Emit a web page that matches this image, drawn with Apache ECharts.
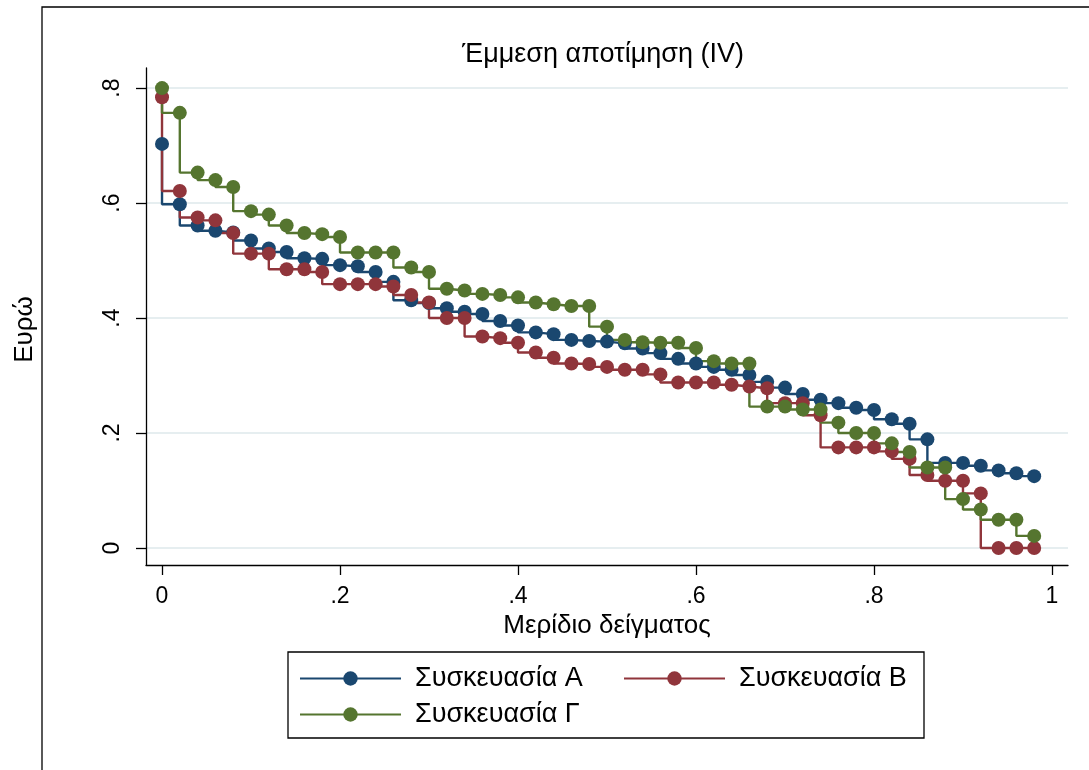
<!DOCTYPE html>
<html>
<head>
<meta charset="utf-8">
<script src="https://cdn.jsdelivr.net/npm/echarts@6/dist/echarts.min.js"></script>
<style>
html, body { margin: 0; padding: 0; background: #fff; }
#chart { width: 1089px; height: 770px; }
</style>
</head>
<body>
<div id="chart"></div>
<script>
// μερίδιο δείγματος (άξονας x)
const shares = [0, 0.02, 0.04, 0.06, 0.08, 0.1, 0.12, 0.14, 0.16, 0.18,
  0.2, 0.22, 0.24, 0.26, 0.28, 0.3, 0.32, 0.34, 0.36, 0.38,
  0.4, 0.42, 0.44, 0.46, 0.48, 0.5, 0.52, 0.54, 0.56, 0.58,
  0.6, 0.62, 0.64, 0.66, 0.68, 0.7, 0.72, 0.74, 0.76, 0.78,
  0.8, 0.82, 0.84, 0.86, 0.88, 0.9, 0.92, 0.94, 0.96, 0.98]

const packA = [0.703, 0.598, 0.561, 0.552, 0.549, 0.535, 0.521, 0.515, 0.504, 0.503,
  0.492, 0.490, 0.480, 0.463, 0.431, 0.426, 0.417, 0.411, 0.407, 0.395,
  0.387, 0.375, 0.372, 0.362, 0.360, 0.359, 0.356, 0.347, 0.339, 0.329,
  0.321, 0.315, 0.310, 0.301, 0.289, 0.279, 0.268, 0.258, 0.252, 0.244,
  0.240, 0.224, 0.216, 0.189, 0.148, 0.148, 0.143, 0.135, 0.130, 0.125]

const packB = [0.784, 0.621, 0.575, 0.570, 0.548, 0.512, 0.512, 0.485, 0.485, 0.480,
  0.459, 0.459, 0.459, 0.455, 0.440, 0.427, 0.400, 0.400, 0.368, 0.365,
  0.357, 0.340, 0.331, 0.321, 0.320, 0.315, 0.310, 0.310, 0.302, 0.288,
  0.288, 0.288, 0.284, 0.281, 0.278, 0.252, 0.252, 0.231, 0.175, 0.175,
  0.175, 0.168, 0.155, 0.127, 0.117, 0.117, 0.095, 0, 0, 0]

const packG = [0.800, 0.757, 0.653, 0.640, 0.628, 0.586, 0.580, 0.561, 0.548, 0.546,
  0.541, 0.514, 0.514, 0.514, 0.488, 0.480, 0.451, 0.448, 0.442, 0.440,
  0.436, 0.427, 0.424, 0.421, 0.421, 0.385, 0.362, 0.358, 0.357, 0.357,
  0.348, 0.325, 0.321, 0.321, 0.246, 0.246, 0.241, 0.241, 0.218, 0.200,
  0.200, 0.182, 0.167, 0.140, 0.140, 0.085, 0.067, 0.049, 0.049, 0.021]

const seriesNames = ['Συσκευασία Α', 'Συσκευασία Β', 'Συσκευασία Γ']
const xTicks = [0, 0.2, 0.4, 0.6, 0.8, 1]
const yTicks = [0, 0.2, 0.4, 0.6, 0.8]

const font = "'Liberation Sans', Arial, sans-serif"
const colors = ['#1a476f', '#90353b', '#55752f']

// 0.2 -> .2 όπως στο Stata
function stataLabel(v) {
  if (v === 0) return '0'
  if (v === 1) return '1'
  return String(+v.toFixed(2)).replace(/^0/, '')
}

function makeSeries(name, values, color) {
  return {
    name: name,
    type: 'line',
    step: 'start',
    data: shares.map((x, i) => [x, values[i]]),
    symbol: 'circle',
    symbolSize: 14,
    showAllSymbol: true,
    itemStyle: { color: color },
    lineStyle: { color: color, width: 2.4 }
  }
}

function legendItem(name, left, top) {
  return {
    data: [name],
    left: left,
    top: top,
    padding: 0,
    itemWidth: 101,
    itemHeight: 18,
    selectedMode: false,
    textStyle: { fontFamily: font, fontSize: 27, color: '#000', padding: [0, 0, 0, 9] }
  }
}

const chart = echarts.init(document.getElementById('chart'))
const option = {
  animation: false,
  backgroundColor: '#fff',
  textStyle: { fontFamily: font },
  title: {
    text: 'Έμμεση αποτίμηση (IV)',
    left: 598,
    textAlign: 'center',
    top: 36,
    textStyle: { fontFamily: font, fontSize: 27, fontWeight: 'normal', color: '#000' }
  },
  grid: { left: 146, right: 21, top: 68, bottom: 205 },
  xAxis: {
    type: 'value',
    min: -0.018,
    max: 1.018,
    name: 'Μερίδιο δείγματος',
    nameLocation: 'middle',
    nameGap: 44,
    nameTextStyle: { fontFamily: font, fontSize: 26, color: '#000' },
    axisLine: { show: true, onZero: false, lineStyle: { color: '#000', width: 1.3 } },
    axisTick: { show: true, length: 10, customValues: xTicks, lineStyle: { color: '#000', width: 1.3 } },
    axisLabel: { customValues: xTicks, formatter: stataLabel, margin: 20, fontSize: 23, color: '#000', fontFamily: font },
    splitLine: { show: false }
  },
  yAxis: {
    type: 'value',
    min: -0.0296,
    max: 0.835,
    name: 'Ευρώ',
    nameLocation: 'middle',
    nameGap: 108,
    nameTextStyle: { fontFamily: font, fontSize: 26, color: '#000', padding: [0, 26, 0, 0] },
    axisLine: { show: true, onZero: false, lineStyle: { color: '#000', width: 1.3 } },
    axisTick: { show: true, length: 10, customValues: yTicks, lineStyle: { color: '#000', width: 1.3 } },
    axisLabel: { customValues: yTicks, formatter: stataLabel, rotate: 90, margin: 22, fontSize: 23, color: '#000', fontFamily: font },
    splitLine: { show: true, lineStyle: { color: '#e6eef0', width: 2 } }
  },
  legend: [
    legendItem(seriesNames[0], 299, 665),
    legendItem(seriesNames[1], 623, 665),
    legendItem(seriesNames[2], 299, 701)
  ],
  graphic: [
    {
      type: 'rect',
      shape: { x: 42, y: 7, width: 1200, height: 900 },
      style: { fill: 'none', stroke: '#000', lineWidth: 1.3 },
      silent: true
    },
    {
      type: 'rect',
      shape: { x: 288, y: 652, width: 636, height: 86 },
      style: { fill: 'none', stroke: '#000', lineWidth: 1.3 },
      silent: true
    }
  ],
  series: [
    makeSeries(seriesNames[0], packA, colors[0]),
    makeSeries(seriesNames[1], packB, colors[1]),
    makeSeries(seriesNames[2], packG, colors[2])
  ]
}
chart.setOption(option)
</script>
</body>
</html>
